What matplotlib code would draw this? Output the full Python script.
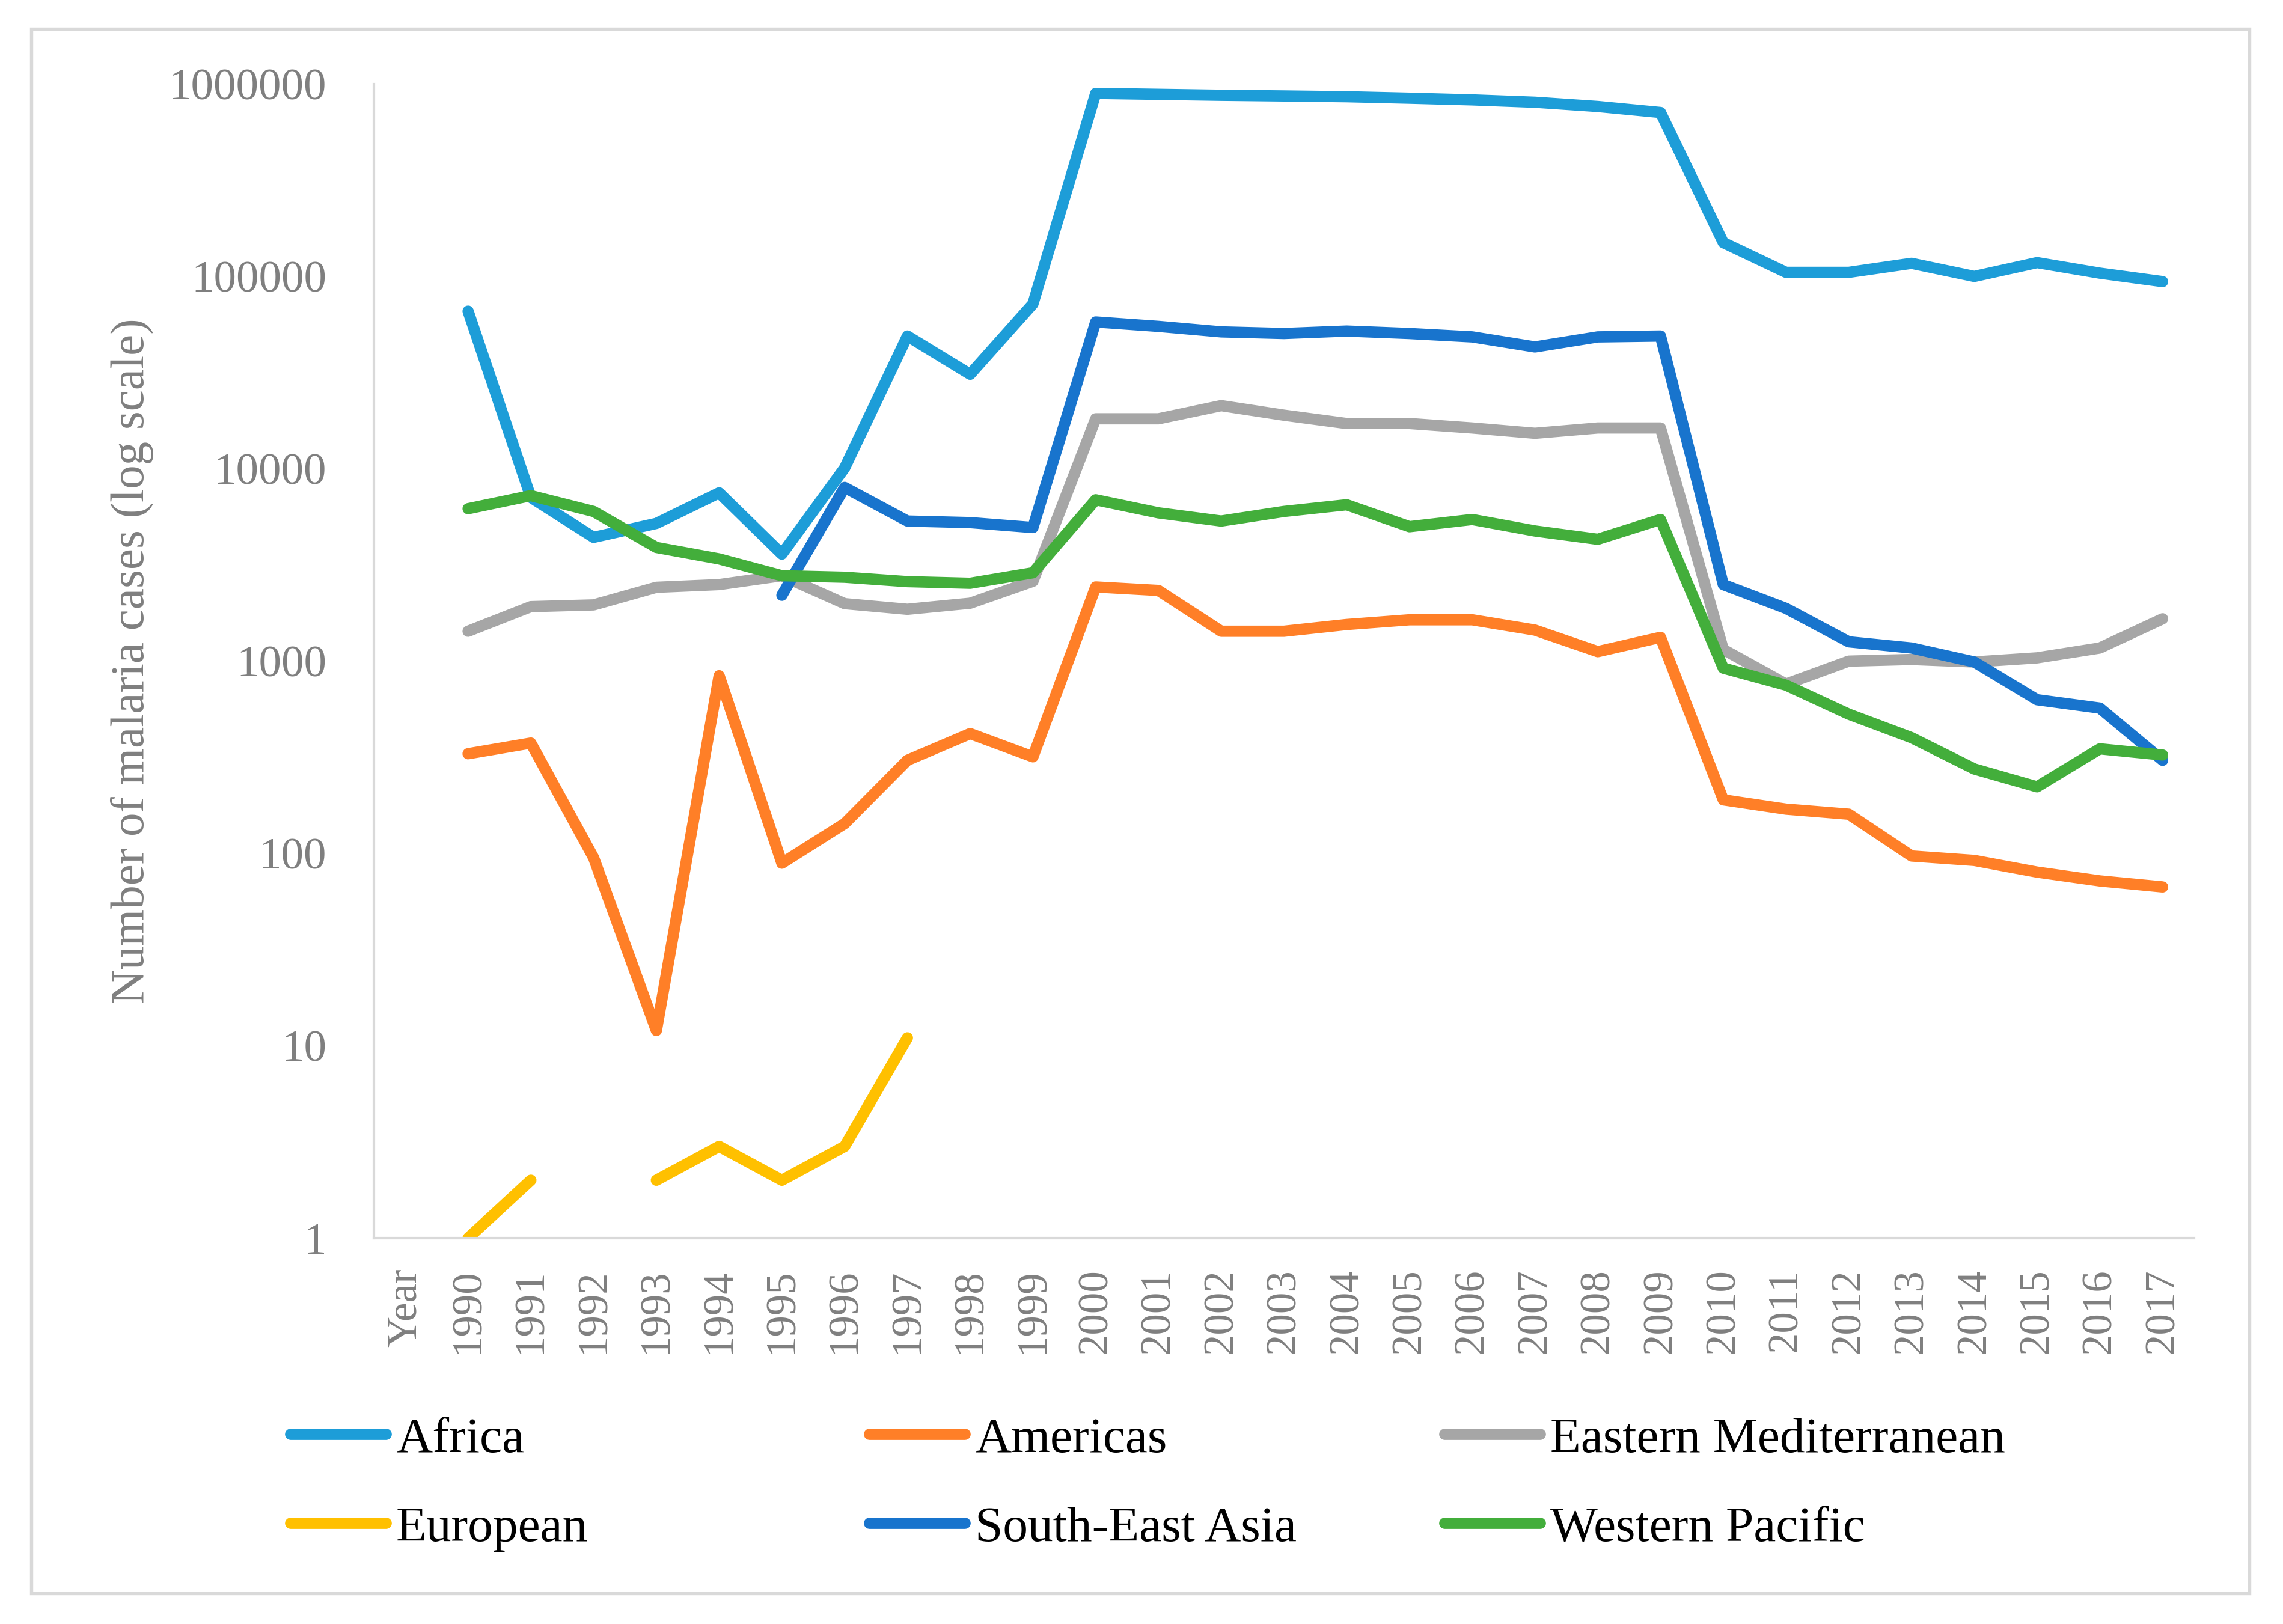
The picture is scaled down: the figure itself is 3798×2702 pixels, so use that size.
import numpy as np
import matplotlib.pyplot as plt

nan = np.nan

categories = ["Year"] + [str(y) for y in range(1990, 2018)]

africa = [nan, 66000, 7100, 4400, 5200, 7500, 3600, 10100, 49000, 31000, 72000,
          895000, 885000, 875000, 868000, 860000, 845000, 828000, 805000, 765000, 712000,
          150000, 105000, 105000, 117000, 100000, 118000, 104000, 94000]
americas = [nan, 330, 375, 95, 12, 840, 89, 143, 305, 420, 318,
            2430, 2330, 1430, 1430, 1550, 1640, 1640, 1450, 1120, 1330,
            190, 170, 160, 97, 92, 80, 72, 67]
eastern_med = [nan, 1430, 1920, 1960, 2420, 2500, 2780, 1990, 1860, 2000, 2600,
               18200, 18200, 21300, 19000, 17200, 17200, 16300, 15300, 16300, 16300,
               1150, 760, 1000, 1020, 990, 1040, 1170, 1660]
european = [nan, 1, 2, nan, 2, 3, 2, 3, 11, nan, nan,
            nan, nan, nan, nan, nan, nan, nan, nan, nan, nan,
            nan, nan, nan, nan, nan, nan, nan, nan]
south_east_asia = [nan, nan, nan, nan, nan, nan, 2200, 8000, 5350, 5250, 4950,
                   58000, 55000, 51500, 50500, 52000, 50500, 48500, 43000, 48500, 49000,
                   2500, 1880, 1260, 1170, 990, 630, 570, 305]
western_pacific = [nan, 6200, 7250, 6000, 3900, 3400, 2780, 2730, 2590, 2540, 2880,
                   6900, 5900, 5350, 6000, 6500, 5000, 5450, 4750, 4300, 5450,
                   920, 750, 530, 400, 275, 222, 350, 325]

series = [
    ("Africa", africa, "#1d9dd8"),
    ("Americas", americas, "#ff7f27"),
    ("Eastern Mediterranean", eastern_med, "#a6a6a6"),
    ("European", european, "#ffc000"),
    ("South-East Asia", south_east_asia, "#1874cd"),
    ("Western Pacific", western_pacific, "#43ae3b"),
]

plt.rcParams['font.family'] = ['Liberation Serif', 'DejaVu Serif']
grey = "#7f7f7f"
spine_col = "#d9d9d9"

fig = plt.figure(figsize=(12.66, 9.0067), dpi=300)
ax = fig.add_axes([0.1638, 0.2376, 0.961 - 0.1638, 0.9482 - 0.2376])

x = np.arange(len(categories))
lines = []
for name, vals, col in series:
    ln, = ax.plot(x, vals, color=col, lw=4.5, label=name,
                  solid_capstyle='round', solid_joinstyle='round')
    lines.append(ln)

ax.set_yscale('log')
ax.set_ylim(1, 1e6)
ax.set_xlim(-0.5, len(categories) - 0.5)
ax.set_yticks([1, 10, 100, 1000, 10000, 100000, 1000000])
ax.set_yticklabels(["1", "10", "100", "1000", "10000", "100000", "1000000"])
ax.minorticks_off()
ax.set_xticks(x)
ax.set_xticklabels(categories, rotation=90, va='top', ha='center')
ax.tick_params(axis='y', length=0, pad=19, labelsize=18, labelcolor=grey)
ax.tick_params(axis='x', length=0, pad=12, labelsize=17, labelcolor=grey)

for s in ['top', 'right']:
    ax.spines[s].set_visible(False)
for s in ['left', 'bottom']:
    ax.spines[s].set_color(spine_col)
    ax.spines[s].set_linewidth(1.0)

ax.set_ylabel("Number of malaria cases (log scale)", fontsize=19, color=grey)
ax.yaxis.set_label_coords(-0.121, 0.5)

# legend: three columns with fixed spacing, two rows each
col_x = [0.1272, 0.3807, 0.6327]
for i, cx in enumerate(col_x):
    hs = [lines[i], lines[i + 3]]
    leg = fig.legend(handles=hs, loc='upper left', bbox_to_anchor=(cx, 0.1276),
                     frameon=False, fontsize=20, handlelength=1.91,
                     handletextpad=0.2, labelspacing=0.86, borderpad=0,
                     borderaxespad=0)
    for h in leg.legend_handles:
        h.set_linewidth(4.5)
        h.set_solid_capstyle('round')

# outer chart border
fig.add_artist(plt.Rectangle((0.0137, 0.0189), 0.9853 - 0.0137, 0.9822 - 0.0189,
                             transform=fig.transFigure, fill=False,
                             edgecolor=spine_col, lw=1.3))

fig.savefig("out.png", dpi=300)
